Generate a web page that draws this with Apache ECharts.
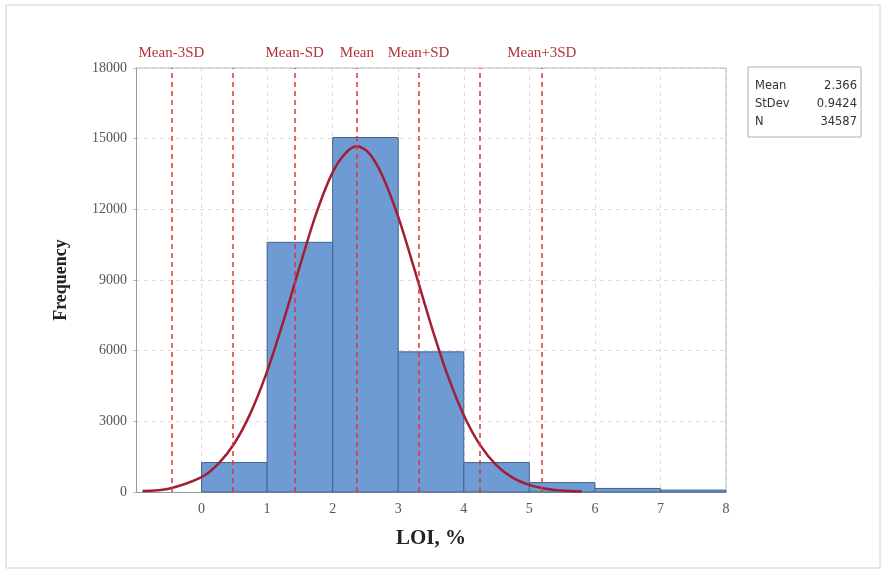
<!DOCTYPE html>
<html>
<head>
<meta charset="utf-8">
<script src="https://cdn.jsdelivr.net/npm/echarts@6/dist/echarts.min.js"></script>
<style>
  html, body { margin: 0; padding: 0; background: #fff; }
  #chart { width: 890px; height: 573px; }
</style>
</head>
<body>
<div id="chart"></div>
<script>
// histogram bins: [start, end, count]
const binStarts = [0, 1, 2, 3, 4, 5, 6, 7];
const binEnds   = [1, 2, 3, 4, 5, 6, 7, 8];
const binCounts = [1250, 10600, 15050, 5950, 1250, 400, 150, 80];

// fitted normal curve
const curveX = [-0.9, -0.5, 0, 0.25, 0.5, 0.75, 1, 1.25, 1.5, 1.75, 2, 2.2, 2.37, 2.55,
                2.75, 3, 3.25, 3.5, 3.75, 4, 4.25, 4.5, 4.75, 5, 5.25, 5.5, 5.8];
const curveY = [40, 140, 630, 1180, 2060, 3370, 5120, 7260, 9600, 11830, 13580, 14400, 14680, 14400,
                13480, 11680, 9430, 7100, 4980, 3260, 1990, 1130, 600, 300, 140, 60, 20];

// reference lines (mean +/- k SD)
const refX      = [-0.461, 0.481, 1.424, 2.366, 3.308, 4.251, 5.193];
const refLabels = ['Mean-3SD', '', 'Mean-SD', 'Mean', 'Mean+SD', '', 'Mean+3SD'];

const statNames  = ['Mean', 'StDev', 'N'];
const statValues = ['2.366', '0.9424', '34587'];

const yTicks = { min: 0, max: 18000, interval: 3000 };

const serif = '"Liberation Serif", "DejaVu Serif", serif';
const chart = echarts.init(document.getElementById('chart'), null, { renderer: 'canvas' });

const statText = [];
statNames.forEach(function (name, i) {
    statText.push({
        type: 'text', left: 755, top: 80 + i * 18,
        style: { text: name, font: '11.5px "DejaVu Sans", sans-serif', fill: '#333' }
    });
    statText.push({
        type: 'text', right: 890 - 857, top: 80 + i * 18,
        style: { text: statValues[i], font: '11.5px "DejaVu Sans", sans-serif', fill: '#333', align: 'right' }
    });
});

chart.setOption({
    animation: false,
    grid: { left: 136, right: 164, top: 68, bottom: 81 },
    graphic: [
        { type: 'rect', shape: { x: 6, y: 5, width: 874, height: 563 },
          style: { fill: 'none', stroke: '#d0d0d0', lineWidth: 1 } },
        { type: 'rect', shape: { x: 748, y: 67, width: 113, height: 70 },
          style: { fill: '#fff', stroke: '#b0b0b0', lineWidth: 1 } },
        // plot frame top/right
        { type: 'line', shape: { x1: 136, y1: 68, x2: 726, y2: 68 }, style: { stroke: '#bbb' }, z: 1 },
        { type: 'line', shape: { x1: 726, y1: 68, x2: 726, y2: 492 }, style: { stroke: '#bbb' }, z: 1 }
    ].concat(statText),
    xAxis: {
        type: 'value', min: -1, max: 8, interval: 1,
        name: 'LOI, %', nameLocation: 'middle', nameGap: 36,
        nameTextStyle: { fontFamily: serif, fontSize: 21, fontWeight: 'bold', color: '#222' },
        axisLine: { show: true, onZero: false, lineStyle: { color: '#999' } },
        axisTick: { show: false },
        axisLabel: {
            fontFamily: serif, fontSize: 14, color: '#555', margin: 10,
            formatter: function (v) { return v < 0 ? '' : String(v); }
        },
        splitLine: { show: true, lineStyle: { color: '#ddd', type: [4, 4] } }
    },
    yAxis: {
        type: 'value', min: yTicks.min, max: yTicks.max, interval: yTicks.interval,
        name: 'Frequency', nameLocation: 'middle', nameGap: 66,
        nameTextStyle: { fontFamily: serif, fontSize: 18, fontWeight: 'bold', color: '#222' },
        axisLine: { show: true, onZero: false, lineStyle: { color: '#999' } },
        axisTick: { show: true, length: 3, lineStyle: { color: '#bbb' } },
        axisLabel: {
            fontFamily: serif, fontSize: 14, color: '#555', margin: 9,
            formatter: function (v) { return String(v); }
        },
        splitLine: { show: true, lineStyle: { color: '#ddd', type: [4, 4] } }
    },
    series: [
        {
            type: 'custom',
            data: binStarts.map(function (s, i) { return [s, binEnds[i], binCounts[i]]; }),
            renderItem: function (params, api) {
                const p0 = api.coord([api.value(0), api.value(2)]);
                const p1 = api.coord([api.value(1), 0]);
                return {
                    type: 'rect',
                    shape: { x: p0[0], y: p0[1], width: p1[0] - p0[0], height: p1[1] - p0[1] },
                    style: { fill: '#6f9bd4', stroke: '#44648c', lineWidth: 1 }
                };
            },
            encode: { x: [0, 1], y: 2 },
            z: 2
        },
        {
            type: 'line',
            data: curveX.map(function (x, i) { return [x, curveY[i]]; }),
            smooth: 0.3,
            showSymbol: false,
            lineStyle: { color: '#a21e33', width: 2.5 },
            z: 4,
            markLine: {
                silent: true,
                symbol: 'none',
                lineStyle: { color: '#e0343a', type: [5, 4], width: 1.5 },
                label: {
                    show: true, position: 'end', distance: 7,
                    fontFamily: serif, fontSize: 15, color: '#b4333a',
                    formatter: function (p) { return refLabels[p.dataIndex]; }
                },
                data: refX.map(function (x) { return { xAxis: x }; })
            }
        }
    ]
});
</script>
</body>
</html>
